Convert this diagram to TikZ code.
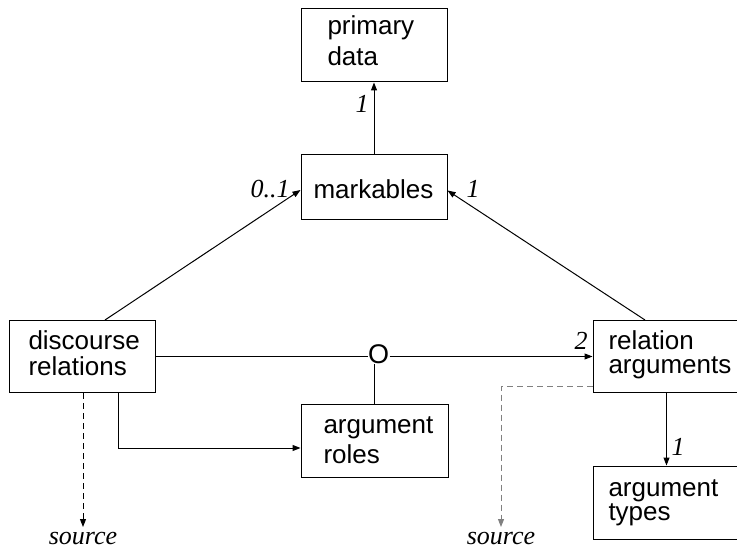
\documentclass[tikz,border=0pt]{standalone}
\usepackage{fontspec}
\setmainfont{Liberation Serif}
\setsansfont{Liberation Sans}
\usetikzlibrary{arrows.meta}
\newcommand\twolines[3]{\vtop{\baselineskip=#1pt\hbox{#2}\hbox{#3}}}
\begin{document}
\begin{tikzpicture}[x=1pt,y=-1pt, line width=1pt,
  box/.style={draw, inner sep=0pt},
  txt/.style={font=\sffamily\fontsize{26}{26}\selectfont, inner sep=0pt, anchor=base west},
  lab/.style={font=\itshape\fontsize{26}{26}\selectfont, inner sep=0pt, anchor=base},
  arr/.style={-{Triangle[length=8pt,width=6pt]}},
  dsh/.style={dash pattern=on 6pt off 4pt}]
\useasboundingbox (0,0) rectangle (737,548);
% boxes
\node[box, minimum width=146pt, minimum height=73pt] (pd) at (374,45.5) {};
\node[box, minimum width=146pt, minimum height=65pt] (mk) at (374,187.5) {};
\node[box, minimum width=146pt, minimum height=72pt] (dr) at (82,356.5) {};
\node[box, minimum width=147pt, minimum height=72pt] (ra) at (666.5,356.5) {};
\node[box, minimum width=147pt, minimum height=73pt] (ar) at (374.5,440.5) {};
\node[box, minimum width=147pt, minimum height=73pt] (at) at (666.5,502.5) {};
% box texts
\node[txt] (pdt) at (327,35) {\twolines{31}{primary}{data}};
\node[txt] (mkt) at (313,199) {markables};
\node[txt] (drt) at (28,349) {\twolines{26}{discourse}{relations}};
\node[txt] (art) at (323,433) {\twolines{30}{argument}{roles}};
\node[txt] (rat) at (608,350) {\twolines{24}{relation}{arguments}};
\node[txt] (att) at (608,496) {\twolines{24}{argument}{types}};
% O
\node[font=\sffamily\fontsize{27}{27}\selectfont, inner sep=0pt, anchor=base] (o) at (378.5,363.5) {O};
% labels
\node[lab] (l1) at (362,113) {1};
\node[lab, anchor=base west] (l01) at (250,198) {0..1};
\node[lab, anchor=base west] (l1b) at (466,198) {1};
\node[lab] (l2) at (581,350) {2};
\node[lab] (l1c) at (678,455) {1};
\node[lab] (srcL) at (83,544) {source};
\node[lab] (srcR) at (501,544) {source};
\coordinate (sl) at (83,527);
\coordinate (sr) at (501,527);
% connectors
\draw[arr] (mk.north) -- (pd.south);
\draw[arr] ([xshift=23pt]dr.north) -- ([yshift=-2.5pt]mk.west);
\draw[arr] ([xshift=-21.5pt]ra.north) -- ([yshift=-3pt]mk.east);
\draw (dr.east) -- (o.west |- dr.east);
\draw[arr] (o.east |- ra.west) -- (ra.west);
\draw (ar.north) -- (ar.north |- o.south);
\draw[arr] ([xshift=36pt]dr.south) |- ([yshift=-7.5pt]ar.west);
\draw[arr, dsh] (dr.south -| sl) -- (sl);
\draw[arr, dsh, gray] ([yshift=-29.5pt]ra.west) -| (sr);
\draw[arr] (ra.south) -- (at.north);
\end{tikzpicture}
\end{document}
